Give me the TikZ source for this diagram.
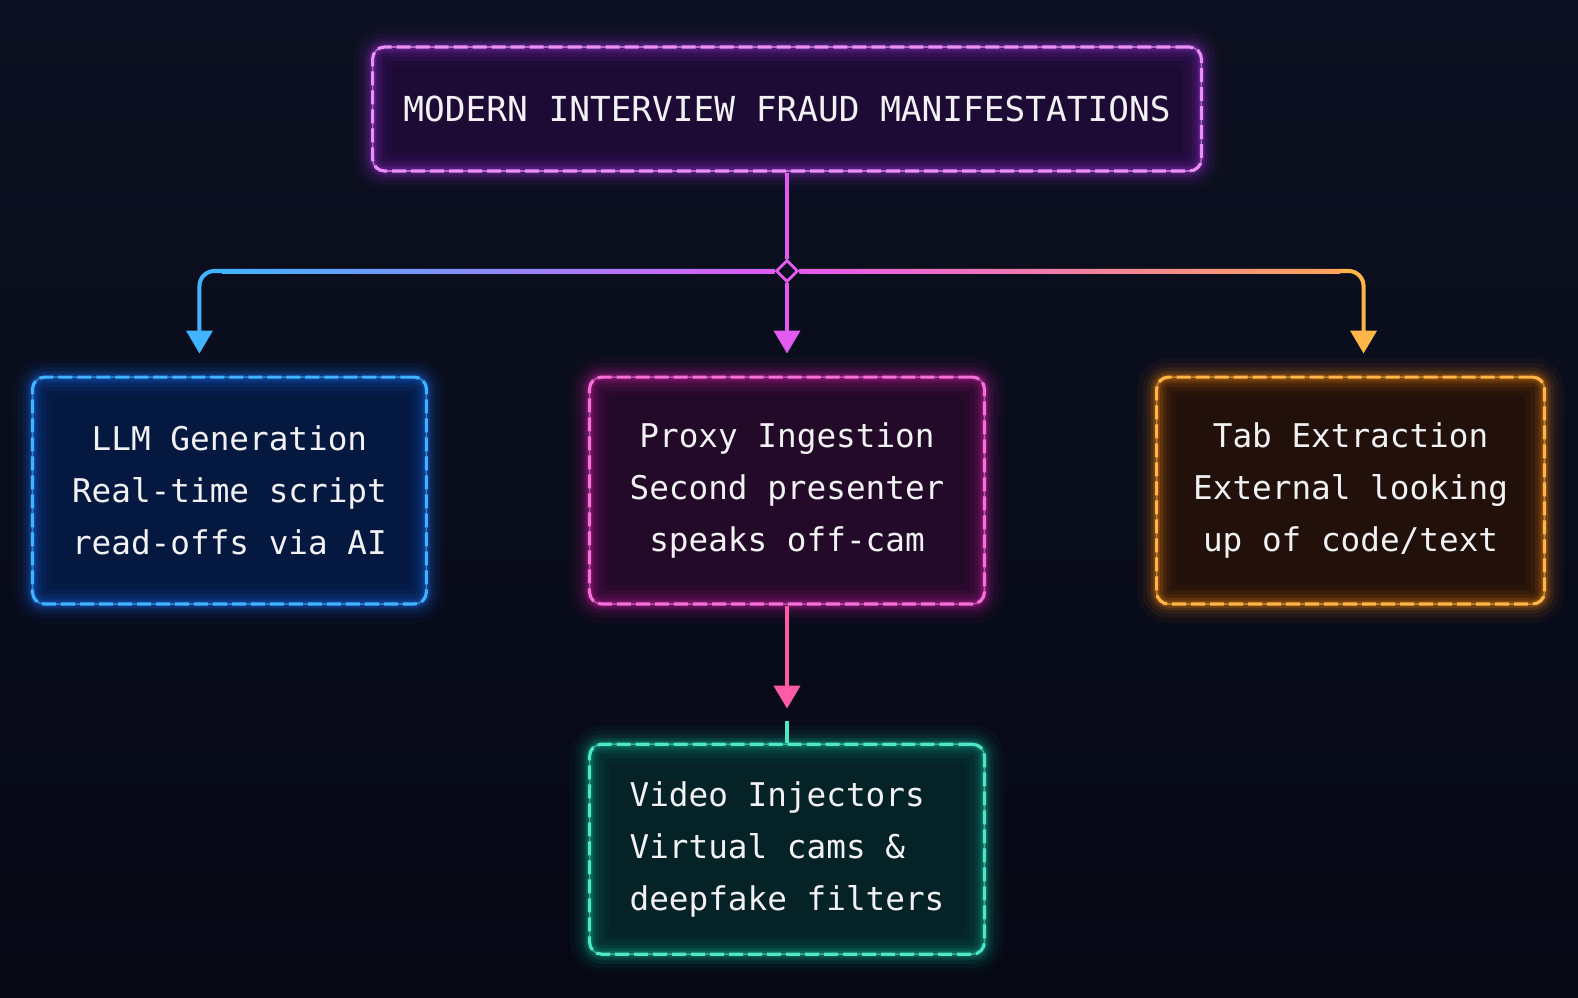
\documentclass[tikz,border=0pt]{standalone}
\usepackage{fontspec}
\setmonofont{DejaVu Sans Mono}
\usepackage{xcolor}
\usepackage{tikz}
\usetikzlibrary{shapes.geometric, positioning, arrows.meta}

\definecolor{bgtop}{HTML}{0C1020}
\definecolor{bgbot}{HTML}{060814}
\definecolor{titleline}{HTML}{EA90F8}
\definecolor{titleglow}{HTML}{A030E0}
\definecolor{titlefill}{HTML}{1D0B36}
\definecolor{llmline}{HTML}{40B4FF}
\definecolor{llmglow}{HTML}{1A70FF}
\definecolor{llmfill}{HTML}{051840}
\definecolor{proxyline}{HTML}{F570D8}
\definecolor{proxyglow}{HTML}{E020B0}
\definecolor{proxyfill}{HTML}{220A28}
\definecolor{tabline}{HTML}{FFB547}
\definecolor{tabglow}{HTML}{FF8A10}
\definecolor{tabfill}{HTML}{21110A}
\definecolor{videoline}{HTML}{4FE6C6}
\definecolor{videoglow}{HTML}{10C0A0}
\definecolor{videofill}{HTML}{052226}
\definecolor{hubline}{HTML}{E25AF0}
\definecolor{downline}{HTML}{FF5AA5}
\definecolor{labeltext}{HTML}{F2F2F5}

\tikzstyle{card} = [rectangle, rounded corners=0.24cm, line width=1.8pt, dash pattern=on 0.28cm off 0.1cm, text=labeltext, font=\ttfamily\fontsize{18.6}{29.7}\selectfont, align=center, inner sep=0pt, minimum width=7.9cm, minimum height=4.54cm]
\tikzset{glow/.style n args={3}{preaction={fill=#3}, preaction={draw=#2, solid, line width=22pt, draw opacity=0.04}, preaction={draw=#2, solid, line width=16pt, draw opacity=0.06}, preaction={draw=#2, solid, line width=11pt, draw opacity=0.09}, preaction={draw=#2, solid, line width=7pt, draw opacity=0.13}, preaction={draw=#2, solid, line width=4pt, draw opacity=0.2}, preaction={draw=#1!75!black, solid, line width=0.9pt}, draw=#1}}
\tikzstyle{feed} = [line width=2.3pt, -{Triangle[width=0.52cm,length=0.46cm]}]

\begin{document}
\begin{tikzpicture}[x=0.02cm, y=-0.02cm]
		\shade[top color=bgtop, bottom color=bgbot] (0,0) rectangle (1578,997);
		\node (title)[card, glow={titleline}{titleglow}{titlefill}, minimum width=16.58cm, minimum height=2.48cm, font=\ttfamily\fontsize{19.6}{24}\selectfont] at (787,109) {MODERN INTERVIEW FRAUD MANIFESTATIONS};
		\node (hub)[diamond, draw=hubline, fill=bgtop, line width=1.6pt, minimum size=0.44cm, inner sep=0pt] at (787,271) {};
		\node (proxy)[card, glow={proxyline}{proxyglow}{proxyfill}, below = 4.06cm of title]{Proxy Ingestion\\Second presenter\\speaks off-cam};
		\node (llm)[card, glow={llmline}{llmglow}{llmfill}, left = 3.2cm of proxy, minimum width=7.88cm]{LLM Generation\\Real-time script\\read-offs via AI};
		\node (tab)[card, glow={tabline}{tabglow}{tabfill}, right = 3.38cm of proxy, minimum width=7.76cm]{Tab Extraction\\External looking\\up of code/text};
		\node (video)[card, glow={videoline}{videoglow}{videofill}, below = 2.74cm of proxy, minimum height=4.2cm, align=left]{Video Injectors\\Virtual cams \&\\deepfake filters};
		\coordinate (stub) at ([yshift=0.44cm]video.north);
		\draw [line width=2.3pt, draw=hubline] (title.south) -- (hub.north);
		\draw [feed, draw=hubline, shorten >=0.44cm] (hub.south) -- (proxy.north);
		\draw [feed, draw=llmline, rounded corners=0.3cm, shorten >=0.44cm] (hub.west) -| ([xshift=-0.6cm]llm.north);
		\draw [feed, draw=tabline, rounded corners=0.3cm, shorten >=0.44cm] (hub.east) -| ([xshift=0.26cm]tab.north);
		% colour run along the branch line
		\shade[left color=llmline, right color=hubline] (222,269) rectangle ([yshift=-0.04cm]hub.west);
		\shade[left color=hubline, middle color=downline, right color=tabline!80!downline] ([yshift=0.04cm]hub.east) rectangle (1340,273);
		\draw [feed, draw=downline, shorten >=0.68cm] (proxy.south) -- (video.north);
		\draw [line width=2.3pt, draw=videoline] (video.north) -- (stub);
	\end{tikzpicture}
\end{document}
